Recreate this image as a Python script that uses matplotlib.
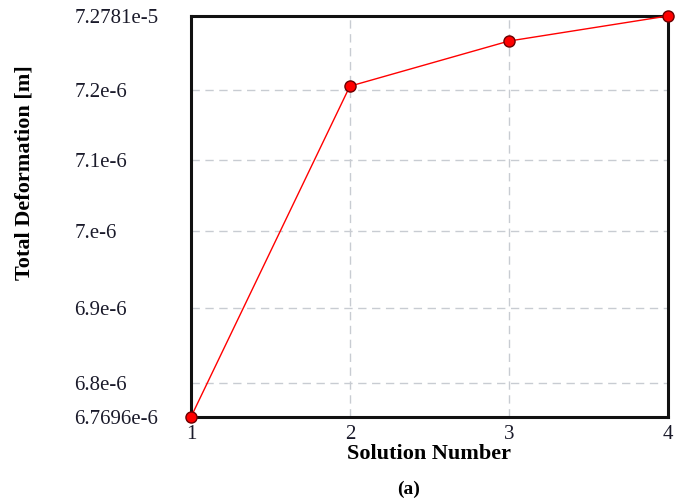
import numpy as np
import matplotlib.pyplot as plt

# convergence of total deformation over the solution steps
solution = [1, 2, 3, 4]
deformation = [6.7696e-6, 7.2042e-6, 7.2517e-6, 7.2781e-6]

y_ticks = [6.7696e-6, 6.8e-6, 6.9e-6, 7.0e-6, 7.1e-6, 7.2e-6, 7.2781e-6]
y_labels = ["6.7696e-6", "6.8e-6", "6.9e-6", "7.e-6", "7.1e-6", "7.2e-6", "7.2781e-5"]

# the value axis is stretched unevenly between ticks, so map each tick
# to its fraction of the axis height and interpolate between them
axis_frac = [0.0, 0.085, 0.272, 0.464, 0.641, 0.815, 1.0]

def fwd(v):
    return np.interp(v, y_ticks, axis_frac)

def inv(f):
    return np.interp(f, axis_frac, y_ticks)

plt.rcParams['font.family'] = ['Liberation Serif', 'DejaVu Serif']

fig = plt.figure(figsize=(6.83, 5.0), dpi=100)
ax = fig.add_axes([0.2796, 0.166, 0.698, 0.802])
ax.set_yscale('function', functions=(fwd, inv))

ax.plot(solution, deformation, color="red", linewidth=1.0, zorder=3)
ax.plot(solution, deformation, linestyle='none', marker='o', markersize=8,
        markerfacecolor="red", markeredgecolor="#6a0000", markeredgewidth=1.0,
        clip_on=False, zorder=4)

ax.set_xlim(1, 4)
ax.set_ylim(y_ticks[0], y_ticks[-1])
ax.set_xticks(solution)
ax.set_xticklabels([str(s) for s in solution])
ax.set_yticks(y_ticks)
ax.set_yticklabels(y_labels)
ax.yaxis.set_minor_locator(plt.NullLocator())

ax.grid(True, color="#c8ccd2", linestyle=(0, (6, 4)), linewidth=1.0)
for s in ax.spines.values():
    s.set_linewidth(2.2)
    s.set_color("#111111")

ax.tick_params(axis='y', length=0, pad=84, labelsize=15, colors="#1a1a2a")
for lab in ax.get_yticklabels():
    lab.set_horizontalalignment('left')
    lab.set_verticalalignment('center_baseline')
ax.tick_params(axis='x', length=0, pad=6, labelsize=15, colors="#1a1a2a")

ax.set_xlabel("Solution Number", fontsize=16, fontweight='bold', labelpad=0)
fig.text(25 / 683, 1 - 173 / 500, "Total Deformation [m]", rotation=90,
         fontsize=16, fontweight='bold', ha='center', va='center')
fig.text(409 / 683, 1 - 489 / 500, "(a)", fontsize=14, fontweight='bold',
         ha='center', va='center')

fig.savefig("out.png", dpi=100)
